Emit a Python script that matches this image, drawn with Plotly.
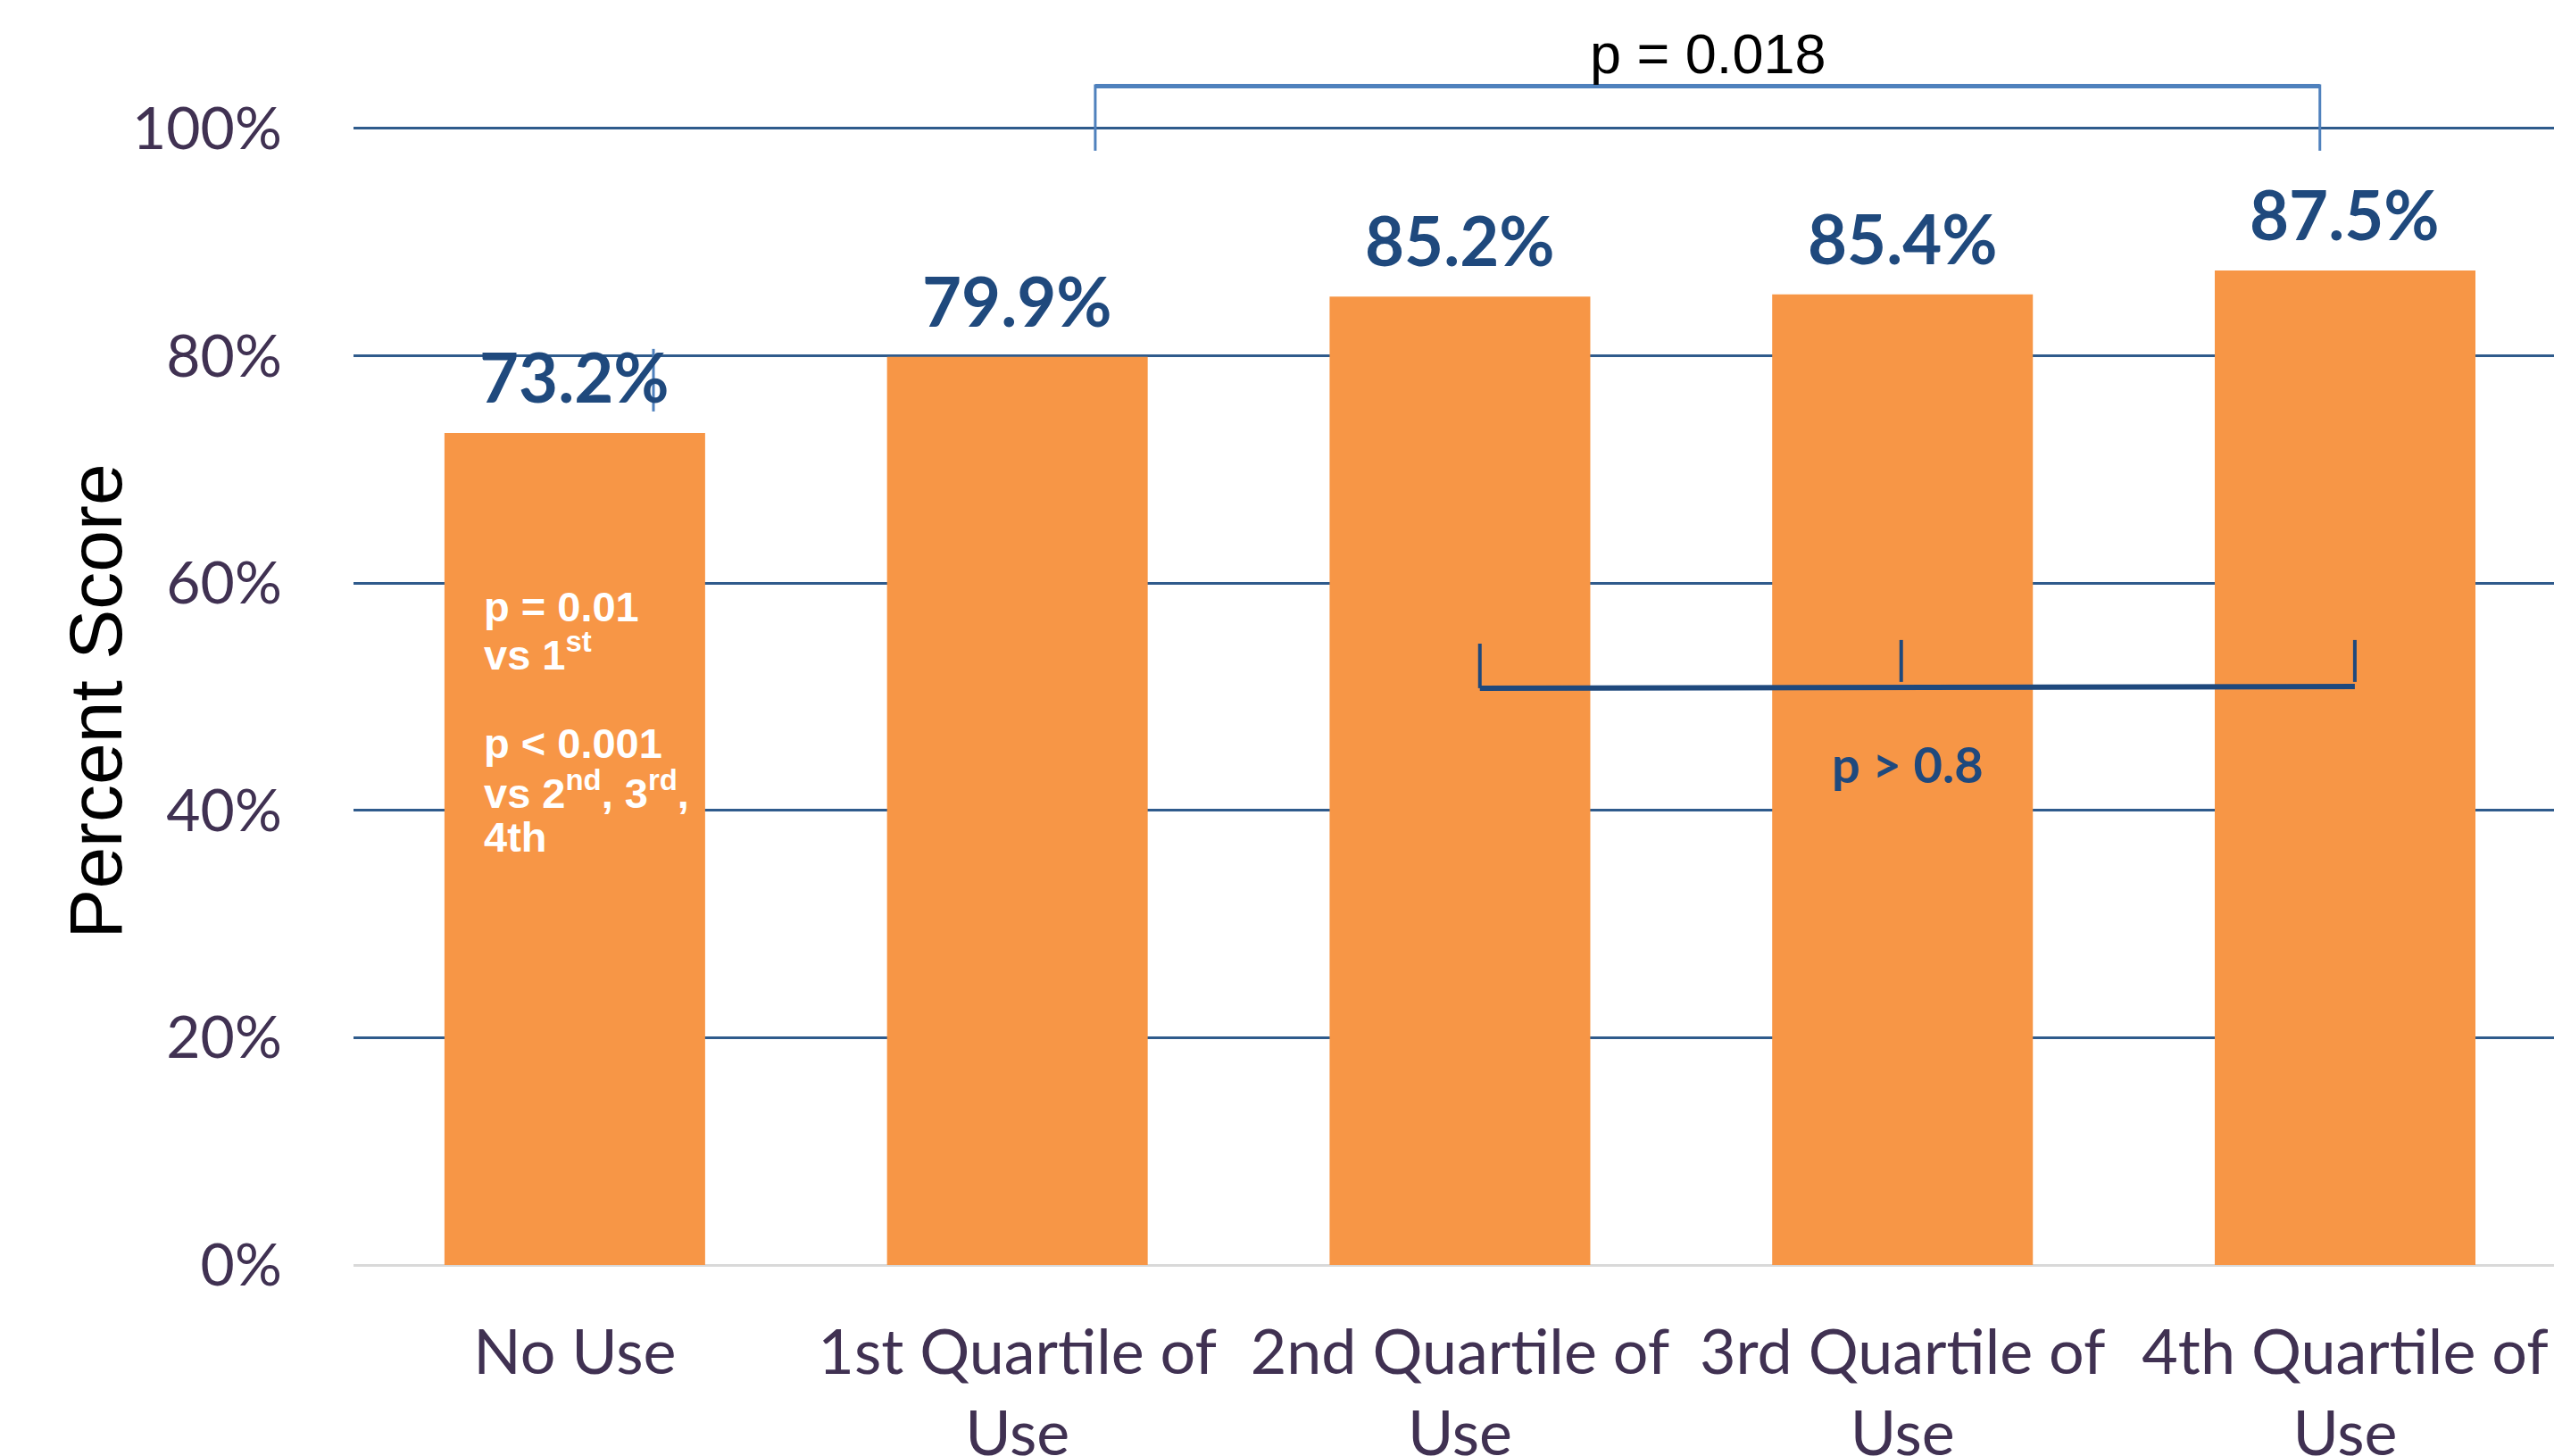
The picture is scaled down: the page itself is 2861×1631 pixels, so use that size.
import plotly.graph_objects as go

categories = ["No Use", "1st Quartile of<br>Use", "2nd Quartile of<br>Use", "3rd Quartile of<br>Use", "4th Quartile of<br>Use"]
scores = [73.2, 79.9, 85.2, 85.4, 87.5]
score_labels = ["73.2%", "79.9%", "85.2%", "85.4%", "87.5%"]
y_ticks = [0, 20, 40, 60, 80, 100]
y_tick_labels = ["0%", "20%", "40%", "60%", "80%", "100%"]

# annotation texts
top_p_text = "p = 0.018"
low_p_text = "p > 0.8"
inside_lines = ["p = 0.01", "vs 1<sup>st</sup>", "p < 0.001", "vs 2<sup>nd</sup>, 3<sup>rd</sup>,", "4th"]
inside_line_y = [57.9, 54.0, 45.9, 41.75, 37.65]

W, H = 2861, 1631
ML, MR, MT, MB = 396, 0, 0, 214
x_range = [-0.5, 4.472]
y_range = [0, 111.3]

ORANGE = "#F79646"
DARK = "#1F497D"
MID = "#4F81BD"
GRID = "#2F5B8C"
TICK = "#403152"

fig = go.Figure()
fig.add_trace(go.Bar(
    x=list(range(len(categories))), y=scores,
    marker=dict(color=ORANGE, line=dict(width=0)),
    width=0.589, hoverinfo="skip",
))

annotations = []
for i, (v, t) in enumerate(zip(scores, score_labels)):
    annotations.append(dict(x=i, y=v, xref="x", yref="y", text=t, showarrow=False,
                            yanchor="bottom", xanchor="center", yshift=16,
                            font=dict(family="Lato", size=76, color=DARK, weight="bold")))

for txt, yy in zip(inside_lines, inside_line_y):
    annotations.append(dict(x=-0.2096, y=yy, xref="x", yref="y", text=txt, showarrow=False,
                            xanchor="left", yanchor="middle",
                            font=dict(family="Liberation Sans", size=47, color="white", weight="bold")))

annotations.append(dict(x=2.56, y=106.6, xref="x", yref="y", text=top_p_text, showarrow=False,
                        xanchor="center", yanchor="middle",
                        font=dict(family="Liberation Sans", size=63, color="black")))
annotations.append(dict(x=3.011, y=44.07, xref="x", yref="y", text=low_p_text, showarrow=False,
                        xanchor="center", yanchor="middle",
                        font=dict(family="Lato", size=56, color=DARK, weight="bold")))
annotations.append(dict(x=-0.1176, y=49.6, xref="paper", yref="y", text="Percent Score", showarrow=False,
                        xanchor="center", yanchor="middle", textangle=-90,
                        font=dict(family="Liberation Sans", size=84, color="black")))

# bracket geometry
top_bracket_x = [1.176, 3.943]
top_bracket_y = [103.73, 98.04]
low_bracket_x = [2.045, 2.997, 4.022]
low_bracket_y = [50.75, 50.9]
low_tick_top = [54.67, 54.99, 54.99]
low_tick_bottom = [50.75, 51.3, 51.3]

shapes = []
shapes.append(dict(type="line", xref="x", yref="y", x0=top_bracket_x[0], x1=top_bracket_x[1],
                   y0=top_bracket_y[0], y1=top_bracket_y[0], line=dict(color=MID, width=5)))
for xx in top_bracket_x:
    shapes.append(dict(type="line", xref="x", yref="y", x0=xx, x1=xx,
                       y0=top_bracket_y[0] + 0.15, y1=top_bracket_y[1], line=dict(color=MID, width=3)))
shapes.append(dict(type="line", xref="x", yref="y", x0=low_bracket_x[0], x1=low_bracket_x[2],
                   y0=low_bracket_y[0], y1=low_bracket_y[1], line=dict(color=DARK, width=6)))
for xx, t, b in zip(low_bracket_x, low_tick_top, low_tick_bottom):
    shapes.append(dict(type="line", xref="x", yref="y", x0=xx, x1=xx, y0=t, y1=b,
                       line=dict(color=DARK, width=4)))
# stray small line near the first label
shapes.append(dict(type="line", xref="x", yref="y", x0=0.1777, x1=0.1777, y0=80.6, y1=75.1,
                   line=dict(color=MID, width=3)))

fig.update_layout(
    width=W, height=H,
    margin=dict(l=ML, r=MR, t=MT, b=MB, pad=0, autoexpand=False),
    paper_bgcolor="white", plot_bgcolor="white",
    showlegend=False, bargap=0.41,
    annotations=annotations, shapes=shapes,
    xaxis=dict(range=x_range, tickmode="array", tickvals=list(range(len(categories))),
               ticktext=categories, showgrid=False, zeroline=False, showline=False,
               tickangle=0, ticklabeloverflow="allow", automargin=False,
               ticks="outside", ticklen=37, tickcolor="rgba(0,0,0,0)",
               tickfont=dict(family="Lato", size=70, color=TICK), fixedrange=True),
    yaxis=dict(range=y_range, tickmode="array", tickvals=y_ticks, ticktext=y_tick_labels,
               showgrid=True, gridcolor=GRID, gridwidth=2.5, automargin=False,
               zeroline=True, zerolinecolor="#D9D9D9", zerolinewidth=3,
               showline=False, ticks="outside", ticklen=66, tickcolor="rgba(0,0,0,0)",
               tickfont=dict(family="Lato", size=66, color=TICK), fixedrange=True),
)

post = ("document.documentElement.style.margin='0';document.body.style.margin='0';"
        "document.body.style.padding='0';document.documentElement.style.overflow='hidden';"
        "document.body.style.overflow='hidden';")
fig.write_html("out.html", post_script=post, config={"displayModeBar": False})
